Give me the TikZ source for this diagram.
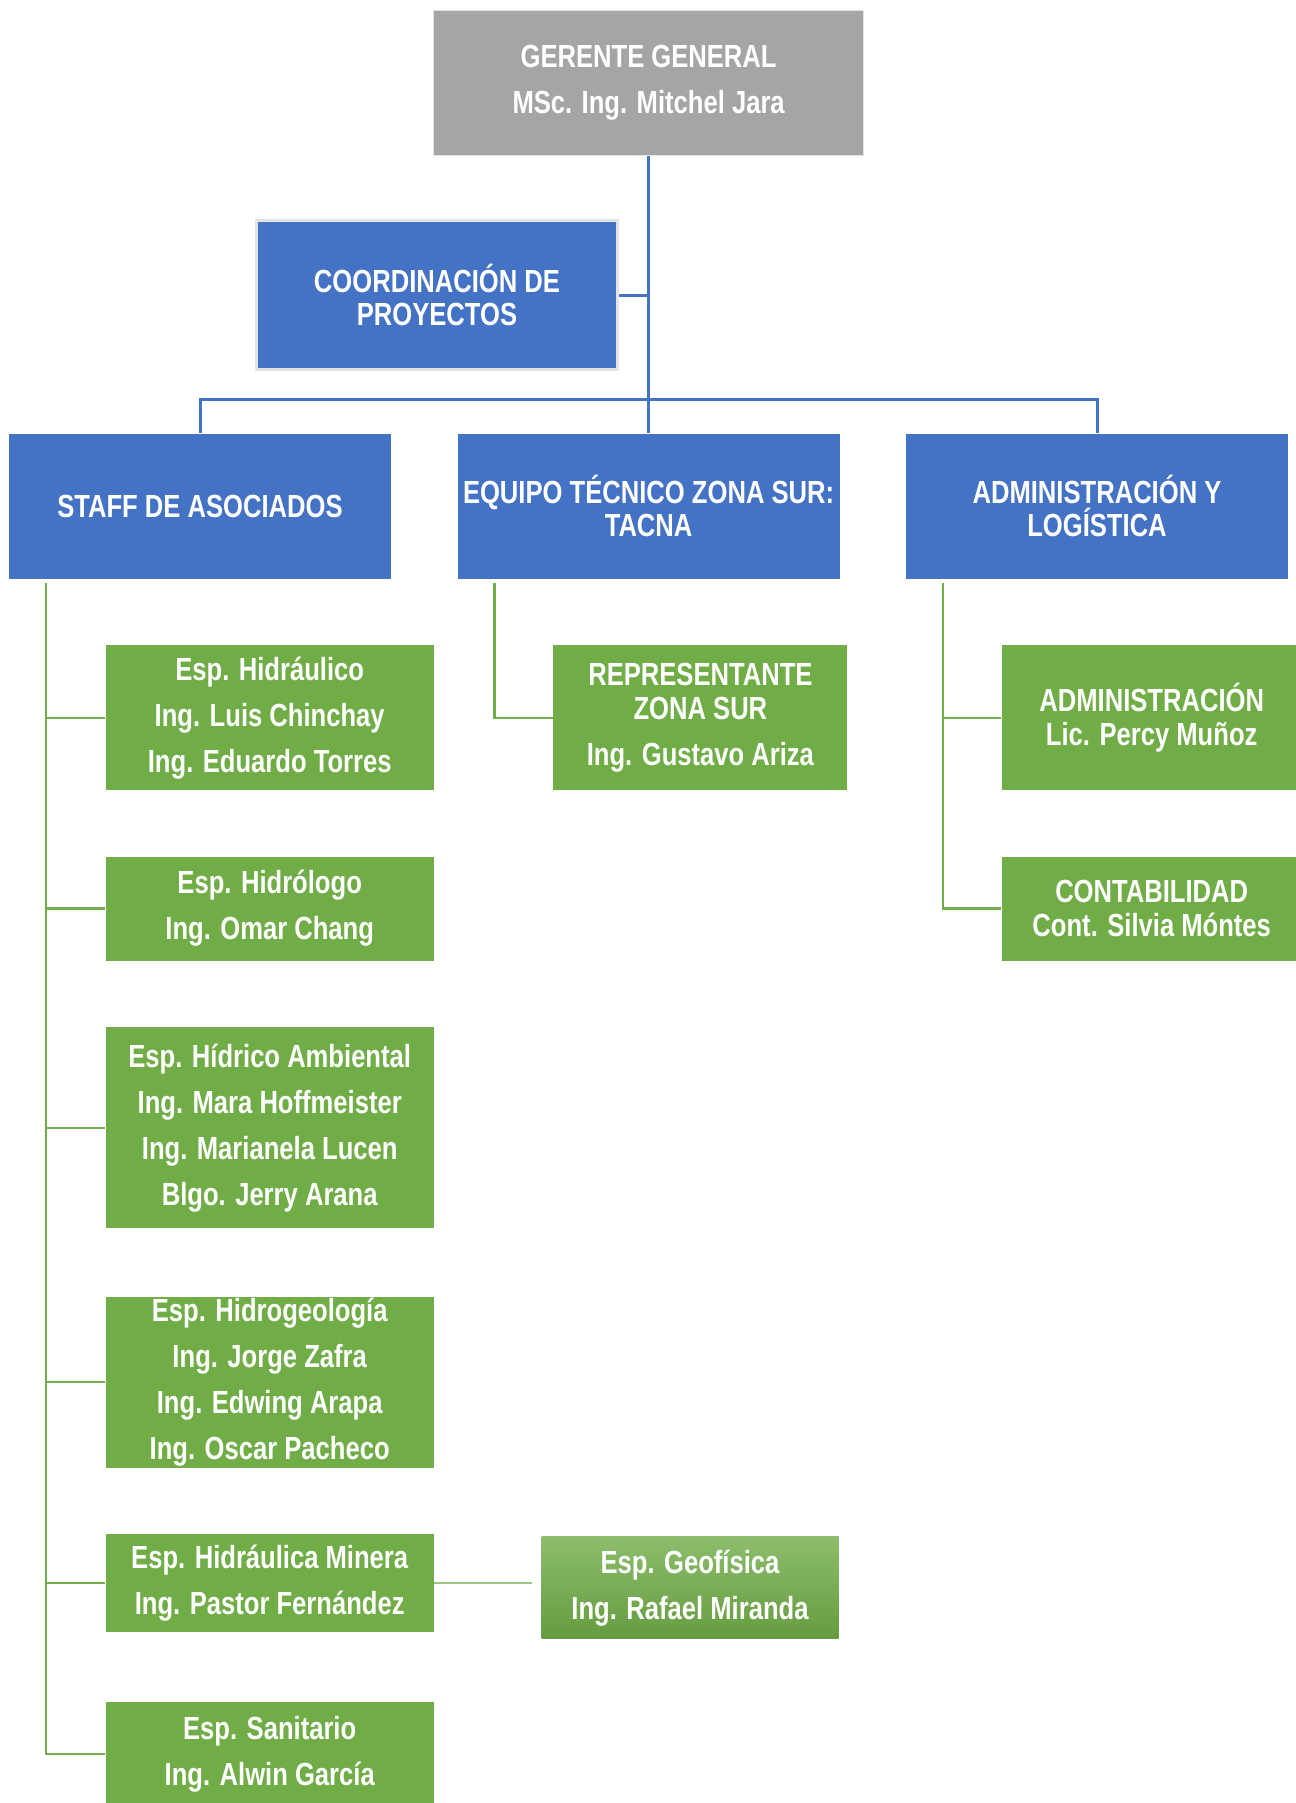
\documentclass[tikz,border=0pt]{standalone}
\usepackage{fontspec}
\setmainfont{Liberation Sans}[FakeStretch=0.8]
\definecolor{jefe}{HTML}{A5A5A5}
\definecolor{area}{HTML}{4472C4}
\definecolor{staff}{HTML}{70AD47}
\definecolor{borde}{HTML}{E4E4E4}
\begin{document}
\begin{tikzpicture}[x=0.5pt,y=-0.5pt,
  caja/.style={rectangle,inner sep=0pt,align=center,text=white,font=\bfseries\fontsize{16}{23}\selectfont},
  jefebox/.style={caja,fill=jefe,draw=borde,line width=0.6pt,minimum width=215pt,minimum height=72.5pt},
  areabox/.style={caja,fill=area,minimum width=191pt,minimum height=72.5pt,font=\bfseries\fontsize{16}{16.7}\selectfont},
  espbox/.style={caja,fill=staff,minimum width=164pt},
  azul/.style={draw=area,line width=1.5pt},
  verde/.style={draw=staff,line width=1.2pt}]
  \useasboundingbox (0,0) rectangle (1295,1803);
  \node[jefebox] (gerente) at (648.6,82.9) {GERENTE GENERAL\\MSc. Ing. Mitchel Jara};
  \node[areabox,draw=borde,line width=1.5pt,minimum width=180.5pt,minimum height=74pt] (coord) at (437,295) {COORDINACIÓN DE\\PROYECTOS};
  \node[areabox] (staffas) at (200,506) {STAFF DE ASOCIADOS};
  \node[areabox] (equipo) at (648.6,506) {EQUIPO TÉCNICO ZONA SUR:\\TACNA};
  \node[areabox] (admlog) at (1097,506) {ADMINISTRACIÓN Y\\LOGÍSTICA};
  \node[espbox,minimum height=72.5pt] (esp1) at (269.7,717.7) {Esp. Hidráulico\\Ing. Luis Chinchay\\Ing. Eduardo Torres};
  \node[espbox,minimum height=52pt] (esp2) at (269.7,908.6) {Esp. Hidrólogo\\Ing. Omar Chang};
  \node[espbox,minimum height=100.5pt] (esp3) at (269.7,1127.7) {Esp. Hídrico Ambiental\\Ing. Mara Hoffmeister\\Ing. Marianela Lucen\\Blgo. Jerry Arana};
  \node[espbox,minimum height=85.5pt] (esp4) at (269.7,1382) {Esp. Hidrogeología\\Ing. Jorge Zafra\\Ing. Edwing Arapa\\Ing. Oscar Pacheco};
  \node[espbox,minimum height=49pt] (esp5) at (269.7,1583) {Esp. Hidráulica Minera\\Ing. Pastor Fernández};
  \node[espbox,minimum height=52pt] (esp6) at (269.7,1754) {Esp. Sanitario\\Ing. Alwin García};
  \node[caja,top color=staff!80!white,bottom color=staff!90!black,minimum width=148.5pt,minimum height=51pt] (geof) at (690,1587.7) {Esp. Geofísica\\Ing. Rafael Miranda};
  \node[espbox,minimum width=147pt,minimum height=72.5pt,font=\bfseries\fontsize{16}{16.7}\selectfont] (repr) at (700.4,717.7) {REPRESENTANTE\\ZONA SUR\\[6.3pt]Ing. Gustavo Ariza};
  \node[espbox,minimum width=150pt,minimum height=72.5pt,font=\bfseries\fontsize{16}{16.7}\selectfont] (adm) at (1151.7,717.7) {ADMINISTRACIÓN\\Lic. Percy Muñoz};
  \node[espbox,minimum width=150pt,minimum height=52pt,font=\bfseries\fontsize{16}{16.7}\selectfont] (cont) at (1151.7,908.6) {CONTABILIDAD\\Cont. Silvia Móntes};
  \draw[azul] (gerente.south) -- (equipo.north);
  \draw[azul] (coord.east) -- (coord.east -| gerente.south);
  \draw[azul] (staffas.north) -- ++(0,-33.4) -| (admlog.north);
  \coordinate (s0) at (46,583);
  \coordinate (e0) at (494.5,583);
  \coordinate (a0) at (943,583);
  \draw[verde] (s0) |- (esp6.west);
  \foreach \n in {1,...,5}
    \draw[verde] (s0 |- esp\n.west) -- (esp\n.west);
  \draw[verde] (e0) |- (repr.west);
  \draw[verde] (a0) |- (cont.west);
  \draw[verde] (a0 |- adm.west) -- (adm.west);
  \draw[draw=staff!70!white,line width=0.6pt,shorten >=4.6pt] (esp5.east) -- (esp5.east -| geof.west);
\end{tikzpicture}
\end{document}
